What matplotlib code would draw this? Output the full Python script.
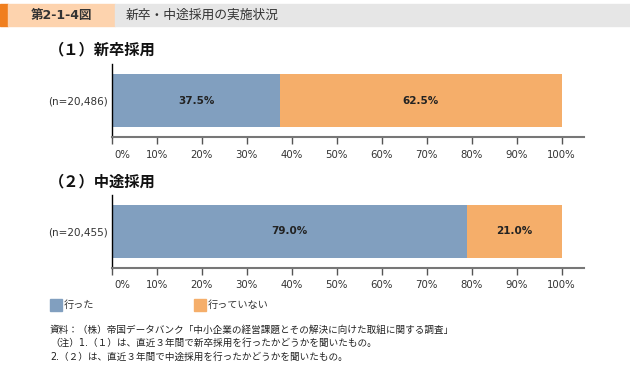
import matplotlib
matplotlib.use("Agg")
import matplotlib.pyplot as plt
import matplotlib.transforms as mtrans
from matplotlib.patches import Rectangle

plt.rcParams['font.family'] = ['DejaVu Sans', 'Noto Sans CJK JP']

# ---- data ----
panel_titles = ["（１）新卒採用", "（２）中途採用"]
sample_labels = ["(n=20,486)", "(n=20,455)"]
did = [37.5, 79.0]
did_not = [62.5, 21.0]
series_names = ["行った", "行っていない"]
xticks = list(range(0, 101, 10))
xtick_labels = [f"{t}%" for t in xticks]
header_num = "第2-1-4図"
header_title = "新卒・中途採用の実施状況"
notes = [
    "資料：（株）帝国データバンク「中小企業の経営課題とその解決に向けた取組に関する調査」",
    "（注）1.（１）は、直近３年間で新卒採用を行ったかどうかを聞いたもの。",
    "2.（２）は、直近３年間で中途採用を行ったかどうかを聞いたもの。",
]

BLUE = "#819fbf"
ORANGE = "#f5ae6a"
W, H = 630, 369
fig = plt.figure(figsize=(W / 100, H / 100), dpi=100)


def px_rect(x0, y0, x1, y1):
    return [x0 / W, 1 - y1 / H, (x1 - x0) / W, (y1 - y0) / H]


def fx(x):
    return x / W


def fy(y):
    return 1 - y / H


# header
fig.patches.append(Rectangle((fx(0), fy(26)), fx(8), 22 / H, transform=fig.transFigure,
                             color="#f07f1f", zorder=0))
fig.patches.append(Rectangle((fx(8), fy(26)), fx(107), 22 / H, transform=fig.transFigure,
                             color="#fdd3ae", zorder=0))
fig.patches.append(Rectangle((fx(115), fy(26)), fx(515), 22 / H, transform=fig.transFigure,
                             color="#e6e6e6", zorder=0))
fig.text(fx(62), fy(15.5), header_num, ha="center", va="center", fontsize=9,
         fontweight="bold", color="#333333")
fig.text(fx(126), fy(15.5), header_title, ha="left", va="center", fontsize=9.2,
         color="#333333")

# panels
panel_tops = [64, 195]
axis_bottoms = [137, 268]
title_ys = [50, 182]
bar_h = 1.0
for i in range(2):
    top, bot = panel_tops[i], axis_bottoms[i]
    ax = fig.add_axes(px_rect(111.7, top, 584, bot))
    bar_top_px = top + 10
    bar_bot_px = bot - 10
    bar_px = bar_bot_px - bar_top_px
    upper = 0.5 + (bar_top_px - top) / bar_px
    lower = -0.5 - (bot - bar_bot_px) / bar_px
    ax.barh([0], [did[i]], height=bar_h, color=BLUE, left=0)
    ax.barh([0], [did_not[i]], height=bar_h, color=ORANGE, left=did[i])
    ax.text(did[i] / 2, 0, f"{did[i]:.1f}%", ha="center", va="center",
            fontsize=7.5, fontweight="bold", color="#222222")
    ax.text(did[i] + did_not[i] / 2, 0, f"{did_not[i]:.1f}%", ha="center",
            va="center", fontsize=7.5, fontweight="bold", color="#222222")
    ax.set_xlim(0, 105)
    ax.set_ylim(lower, upper)
    ax.set_yticks([0])
    ax.set_yticklabels([sample_labels[i]], fontsize=7.5, color="#333333")
    ax.tick_params(axis="y", length=0, pad=3)
    ax.set_xticks(xticks)
    ax.set_xticklabels(xtick_labels, fontsize=7.3, color="#333333")
    ax.tick_params(axis="x", length=5, width=1, color="#555555", pad=4)
    first = ax.get_xticklabels()[0]
    first.set_horizontalalignment("left")
    first.set_transform(first.get_transform() +
                        mtrans.ScaledTranslation(3 / 100, 0, fig.dpi_scale_trans))
    for s in ("top", "right"):
        ax.spines[s].set_visible(False)
    ax.spines["bottom"].set_color("#777777")
    ax.spines["bottom"].set_linewidth(1.5)
    ax.spines["left"].set_color("#000000")
    ax.spines["left"].set_linewidth(1.0)
    fig.text(fx(49), fy(title_ys[i]), panel_titles[i], ha="left", va="center",
             fontsize=11, fontweight="bold", color="#111111")

# legend
leg_x = [50, 194]
for j, (name, col) in enumerate(zip(series_names, [BLUE, ORANGE])):
    fig.patches.append(Rectangle((fx(leg_x[j]), fy(311)), 12 / W, 12 / H,
                                 transform=fig.transFigure, color=col))
    fig.text(fx(leg_x[j] + 14), fy(305), name, ha="left", va="center",
             fontsize=7.3, color="#333333")

# notes
note_ys = [330, 343, 357]
for t, y in zip(notes, note_ys):
    fig.text(fx(50), fy(y), t, ha="left", va="center", fontsize=6.9, color="#222222")

fig.savefig("out.png", dpi=100)
